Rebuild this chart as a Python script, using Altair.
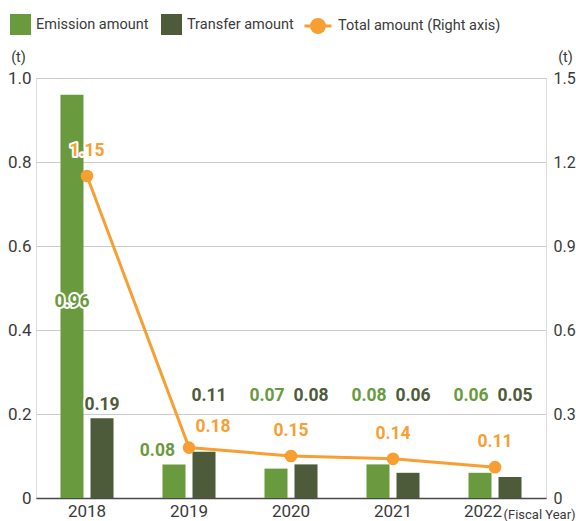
import altair as alt
import pandas as pd

# ---------------- data ----------------
years = ["2018", "2019", "2020", "2021", "2022"]
emission = [0.96, 0.08, 0.07, 0.08, 0.06]
transfer = [0.19, 0.11, 0.08, 0.06, 0.05]
total = [1.15, 0.18, 0.15, 0.14, 0.11]

SER_E = "Emission amount"
SER_T = "Transfer amount"
SER_L = "Total amount (Right axis)"

# ---------------- style ----------------
GREEN = "#6a9a3e"
DARK = "#4e5b3b"
ORANGE = "#f89f33"
TXT = "#3a3a3a"
FONT = "Roboto"
AX_FS = 17
LBL_FS = 17.5
LEG_FS = 14.5

bars = pd.DataFrame({
    "year": years * 2,
    "series": [SER_E] * len(years) + [SER_T] * len(years),
    "value": emission + transfer,
})

# label placement rules (in left-axis units)
ROW = 0.244
def place(series, year, v):
    if series == SER_E and v > 0.5:
        return "inside", v * 0.487
    if year == "2018":
        return "above", v
    if year == "2019" and series == SER_E:
        return "above_r", v
    return ("row_e" if series == SER_E else "row_t"), ROW

slots, lys = [], []
for s, y, v in zip(bars["series"], bars["year"], bars["value"]):
    sl, ly = place(s, y, v)
    slots.append(sl)
    lys.append(ly)
bars["slot"] = slots
bars["ly"] = lys
bars["txt"] = [f"{v:.2f}" for v in bars["value"]]

line_df = pd.DataFrame({"year": years, "name": SER_L, "total": total})
line_df["txt"] = [f"{v:.2f}" for v in total]
# a total label is moved to the right of its point when the line drops steeply into it
prev = [None] + total[:-1]
line_df["steep"] = [p is not None and (p - v) > 0.5 for p, v in zip(prev, total)]

last_year = years[-1]
x_enc = alt.X(
    "year:N",
    scale=alt.Scale(paddingInner=0.48, paddingOuter=0.24),
    axis=alt.Axis(
        title="(Fiscal Year)", labelAngle=0, ticks=False, domainColor="#4a4a4a",
        domainWidth=1.5, labelFont=FONT, labelFontSize=AX_FS, labelColor=TXT,
        labelPadding=5,
        labelOffset={"condition": {"test": f"datum.value == '{last_year}'", "value": -12}, "value": 0},
        titleFont=FONT, titleFontSize=13, titleFontWeight="normal",
        titleColor=TXT, titleX=467, titleY=16, titleAlign="left", titleBaseline="middle",
    ),
)
xoff = alt.XOffset("series:N", scale=alt.Scale(domain=[SER_E, SER_T], paddingInner=0.233, paddingOuter=0))

left_axis = alt.Axis(
    title="(t)", values=[0, 0.2, 0.4, 0.6, 0.8, 1.0],
    labelExpr="datum.value == 0 ? '0' : format(datum.value, '.1f')",
    domain=False, ticks=False, grid=True, gridColor="#cccccc", gridWidth=1.2,
    labelFont=FONT, labelFontSize=AX_FS, labelColor=TXT, labelPadding=5,
    titleFont=FONT, titleFontSize=LEG_FS, titleFontWeight="normal", titleColor=TXT,
    titleAngle=0, titleX=-18, titleY=-21, titleAlign="center", titleBaseline="middle",
)
right_axis = alt.Axis(
    title="(t)", orient="right", values=[0, 0.3, 0.6, 0.9, 1.2, 1.5],
    labelExpr="datum.value == 0 ? '0' : format(datum.value, '.1f')",
    domain=False, ticks=False, grid=False,
    labelFont=FONT, labelFontSize=16, labelColor=TXT, labelPadding=7,
    titleFont=FONT, titleFontSize=LEG_FS, titleFontWeight="normal", titleColor=TXT,
    titleAngle=0, titleX=19, titleY=-21, titleAlign="center", titleBaseline="middle",
)

bar_layer = alt.Chart(bars).mark_bar().encode(
    x=x_enc,
    xOffset=xoff,
    y=alt.Y("value:Q", scale=alt.Scale(domain=[0, 1], nice=False), axis=left_axis),
    color=alt.Color(
        "series:N",
        scale=alt.Scale(domain=[SER_E, SER_T], range=[GREEN, DARK]),
        legend=alt.Legend(
            orient="none", legendX=-26, legendY=-64, direction="horizontal", title=None,
            symbolType="square", symbolSize=441, symbolStrokeWidth=0, symbolOpacity=1,
            labelFont=FONT, labelFontSize=LEG_FS, labelColor=TXT, labelOffset=5,
            labelLimit=0, columnPadding=12, padding=0,
        ),
    ),
)

slot_style = {
    "inside": dict(align="center", baseline="middle", dx=0, dy=0),
    "above": dict(align="center", baseline="bottom", dx=0, dy=-4),
    "above_r": dict(align="right", baseline="bottom", dx=1, dy=-4),
    "row_e": dict(align="center", baseline="middle", dx=-9, dy=0),
    "row_t": dict(align="center", baseline="middle", dx=5, dy=0),
}

label_layers = []
for sl, st in slot_style.items():
    base = alt.Chart(bars).transform_filter(alt.datum.slot == sl)
    enc = dict(
        x=alt.X("year:N"),
        xOffset=alt.XOffset("series:N"),
        y=alt.Y("ly:Q"),
        text="txt:N",
    )
    halo = base.mark_text(font=FONT, fontSize=LBL_FS, fontWeight="bold", fill="white",
                          stroke="white", strokeWidth=4, strokeJoin="round", **st).encode(**enc)
    fg = base.mark_text(font=FONT, fontSize=LBL_FS, fontWeight="bold", **st).encode(
        color=alt.condition(alt.datum.series == SER_E, alt.value(GREEN), alt.value(DARK)), **enc
    )
    label_layers += [halo, fg]

left = alt.layer(bar_layer, *label_layers)

LINE_SYMBOL = "M-1,0L1,0M-0.48,0A0.48,0.48,0,1,0,0.48,0A0.48,0.48,0,1,0,-0.48,0Z"

line_layer = alt.Chart(line_df).mark_line(
    strokeWidth=3, point=alt.OverlayMarkDef(filled=True, size=160, opacity=1)
).encode(
    x=alt.X("year:N"),
    y=alt.Y("total:Q", scale=alt.Scale(domain=[0, 1.5], nice=False), axis=right_axis),
    color=alt.Color(
        "name:N",
        scale=alt.Scale(domain=[SER_L], range=[ORANGE]),
        legend=alt.Legend(
            orient="none", legendX=267, legendY=-67, title=None,
            symbolType=LINE_SYMBOL, symbolSize=729, symbolStrokeWidth=3,
            symbolFillColor=ORANGE, symbolStrokeColor=ORANGE, symbolOpacity=1,
            labelFont=FONT, labelFontSize=LEG_FS, labelColor=TXT, labelOffset=5,
            labelLimit=0, padding=0,
        ),
    ),
)

tl_enc = dict(x=alt.X("year:N"), y=alt.Y("total:Q"), text="txt:N")
total_label_layers = []
for steep, dx, dy in [(False, 0, -25), (True, 24, -21)]:
    base = alt.Chart(line_df).transform_filter(alt.datum.steep == steep)
    total_label_layers.append(base.mark_text(
        font=FONT, fontSize=LBL_FS, fontWeight="bold", fill="white", stroke="white",
        strokeWidth=4, strokeJoin="round", baseline="middle", dx=dx, dy=dy,
    ).encode(**tl_enc))
    total_label_layers.append(base.mark_text(
        font=FONT, fontSize=LBL_FS, fontWeight="bold", color=ORANGE, baseline="middle",
        dx=dx, dy=dy,
    ).encode(**tl_enc))

right = alt.layer(line_layer, *total_label_layers)

chart = alt.layer(left, right).resolve_scale(
    y="independent", color="independent"
).properties(
    width=510, height=420,
    autosize=alt.AutoSizeParams(type="none"),
    padding={"left": 36, "top": 78, "right": 30, "bottom": 23},
).configure_view(stroke=None).configure(background="white")

chart.save("out.html", embed_options={"renderer": "svg", "actions": False})
